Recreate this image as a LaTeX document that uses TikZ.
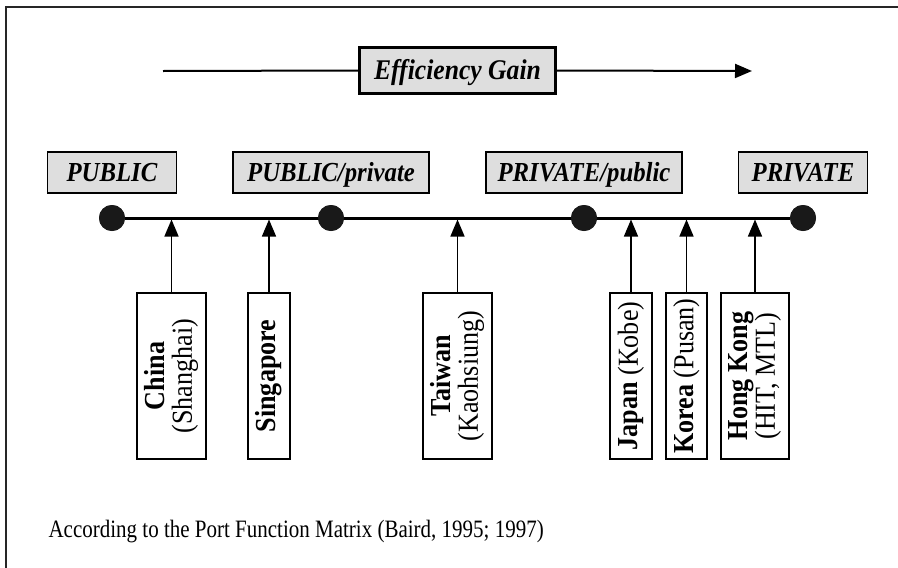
\documentclass[tikz,border=0pt]{standalone}
\usepackage{fontspec}
\setmainfont[FakeStretch=0.9]{Liberation Serif}
\newfontfamily\capfont[FakeStretch=0.84]{Liberation Serif}
\usetikzlibrary{arrows.meta,positioning}
\tikzset{
  gainbox/.style={draw, line width=3pt, fill=black!13, minimum width=196pt, minimum height=46pt, text height=18pt, text depth=0pt, font=\fontsize{28.5}{30}\selectfont\bfseries\itshape},
  catbox/.style={draw, line width=1.5pt, fill=black!13, minimum height=41pt, text height=18pt, text depth=0pt, font=\fontsize{27.5}{30}\selectfont\bfseries\itshape},
  portbox/.style={draw, line width=1.5pt, rotate=90, minimum width=166pt, inner sep=0pt, align=center, font=\fontsize{29}{27}\selectfont},
  dotn/.style={draw=none, circle, fill=black!90, minimum size=26pt, inner sep=0pt},
  cline/.style={-{Triangle[length=17pt,width=14pt]}, line width=1.5pt},
  gline/.style={line width=2pt},
}

\begin{document}
\begin{tikzpicture}[x=1pt,y=-1pt]
  \useasboundingbox (0,0) rectangle (898,568);
  \draw[line width=2pt, black!85] (6,568) -- (6,7) -- (898,7);

  % efficiency arrow
  \node[gainbox] (gain) at (457.5,70.5) {Efficiency Gain};
  \coordinate (gs) at (163,71);
  \coordinate (ge) at (752,71);
  \draw[gline] (gs) -- (gain.west);
  \draw[gline, -{Triangle[length=17pt,width=14pt]}] (gain.east) -- (ge);

  % ownership axis
  \node[dotn] (d1) at (112,218) {};
  \node[dotn] (d2) at (331,218) {};
  \node[dotn] (d3) at (584,218) {};
  \node[dotn] (d4) at (803,218) {};
  \draw[line width=3pt] (d1) -- (d4);
  \foreach \d in {d1,d2,d3,d4}
    \node[dotn] at (\d) {};

  \node[catbox, minimum width=129pt, above=11pt of d1] (pub)   {PUBLIC};
  \node[catbox, minimum width=196pt, above=11pt of d2] (pubp)  {PUBLIC/\textit{private}};
  \node[catbox, minimum width=196pt, above=11pt of d3] (privp) {PRIVATE/\textit{public}};
  \node[catbox, minimum width=129pt, above=11pt of d4] (priv)  {PRIVATE};

  % ports
  \node[portbox, minimum height=69pt] (china) at (171.5,376) {\textbf{China}\\(Shanghai)};
  \node[portbox, minimum height=42pt] (sing)  at (269,376)   {\textbf{Singapore}};
  \node[portbox, minimum height=69pt] (taiw)  at (457.5,376) {\textbf{Taiwan}\\(Kaohsiung)};
  \node[portbox, minimum height=42pt] (japan) at (631,376)   {\textbf{Japan} (Kobe)};
  \node[portbox, minimum height=41pt] (korea) at (686.5,376) {\textbf{Korea} (Pusan)};
  \node[portbox, minimum height=68pt] (hk)    at (755,376)   {\textbf{Hong Kong}\\(HIT, MTL)};

  \foreach \p in {china,sing,taiw,japan,korea,hk}
    \draw[cline, shorten >=1.5pt] (\p.east) -- (\p.east |- d1);

  \node[anchor=base west, font=\capfont\fontsize{25}{28}\selectfont] (src) at (45,537)
    {According to the Port Function Matrix (Baird, 1995; 1997)};
\end{tikzpicture}
\end{document}
